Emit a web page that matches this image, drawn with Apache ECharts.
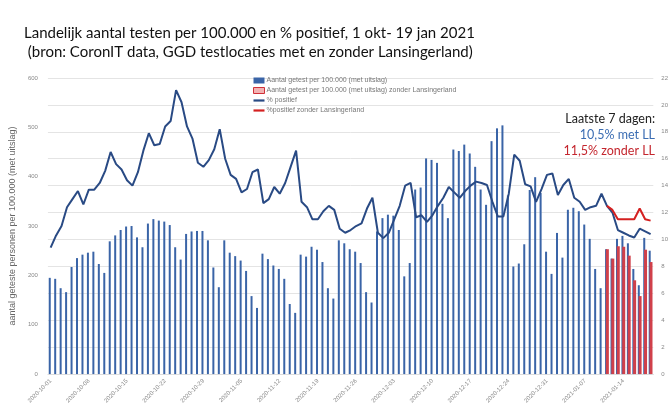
<!DOCTYPE html>
<html>
<head>
<meta charset="utf-8">
<script src="https://cdn.jsdelivr.net/npm/echarts@6/dist/echarts.min.js"></script>
<style>
  html, body { margin: 0; padding: 0; background: #fff; }
  #chart { width: 671px; height: 406px; }
</style>
</head>
<body>
<div id="chart"></div>
<script>
// daily categories 2020-10-01 .. 2021-01-19
var categories = [];
var d = new Date(Date.UTC(2020, 9, 1));
for (var i = 0; i < 111; i++) {
  categories.push(d.toISOString().slice(0, 10));
  d.setUTCDate(d.getUTCDate() + 1);
}

// aantal getest per 100.000 (met uitslag)
var testsAll = [
  195,193,174,166,217,235,242,246,248,223,205,269,281,292,299,300,277,257,305,314,311,309,302,257,232,284,289,290,
  290,271,216,176,271,246,239,230,209,158,134,244,233,220,213,193,142,124,242,238,258,252,227,174,153,271,265,253,248,
  225,166,145,289,316,323,321,292,198,225,374,378,437,434,428,345,316,455,452,465,447,420,374,343,472,498,504,362,
  218,224,263,373,399,367,248,203,286,236,333,337,330,303,274,213,174,253,234,274,280,265,213,180,276,250
];
// zonder Lansingerland, 2021-01-11 .. 2021-01-19
var testsNoLL = [253,234,259,258,240,190,158,252,227];

// % positief
var pctAll = [
  9.4,10.3,11.0,12.4,13.0,13.6,12.6,13.7,13.7,14.2,15.1,16.5,15.6,15.2,14.4,14.0,15.0,16.6,17.9,17.0,17.1,18.4,18.8,21.1,20.2,18.4,17.5,15.7,
  15.4,15.9,16.7,18.2,16.0,14.8,14.5,13.5,13.75,15.0,15.2,12.7,13.0,13.9,13.4,14.2,15.4,16.6,12.8,12.4,11.5,11.5,12.1,12.5,12.2,10.8,10.5,10.7,11.0,
  11.2,12.3,13.1,10.5,10.1,10.5,11.5,12.5,14.0,14.2,11.65,11.8,11.3,11.8,12.5,13.1,13.9,13.5,13.1,13.6,14.0,14.3,14.2,14.05,12.8,11.7,11.7,13.4,
  16.3,15.85,14.1,13.95,12.8,13.75,14.8,14.9,13.3,14.05,14.5,13.1,12.8,12.2,12.4,12.5,13.4,12.5,12.0,10.7,10.5,10.3,10.15,10.8,10.6,10.4
];
var pctNoLL = [12.5,12.2,11.5,11.5,11.5,11.5,12.3,11.5,11.4];

var legendNames = [
  'Aantal getest per 100.000 (met uitslag)',
  'Aantal getest per 100.000 (met uitslag) zonder Lansingerland',
  '% positief',
  '%positief zonder Lansingerland'
];

function padTail(arr) {
  var out = [];
  for (var i = 0; i < categories.length - arr.length; i++) out.push(null);
  return out.concat(arr);
}

var lineIcon = 'path://M0,0 L0,0 M0,3 L20,3 L20,7 L0,7 Z M0,10 L0,10';
var noteFont = 'Lato';

var myChart = echarts.init(document.getElementById('chart'));
myChart.setOption({
  animation: false,
  title: {
    text: 'Landelijk aantal testen per 100.000 en % positief, 1 okt- 19 jan 2021\n (bron: CoronIT data, GGD testlocaties met en zonder Lansingerland)',
    left: 19,
    top: 19,
    textStyle: {
      fontFamily: 'Lato',
      fontSize: 15,
      fontWeight: 'normal',
      color: '#111',
      lineHeight: 18.5
    }
  },
  legend: {
    orient: 'vertical',
    left: 248,
    top: 72,
    itemWidth: 11,
    itemHeight: 6,
    itemGap: 3,
    textStyle: { fontSize: 7, color: '#777', padding: [0, 0, 0, -3] },
    data: [
      { name: legendNames[0], icon: 'rect' },
      { name: legendNames[1], icon: 'rect', itemStyle: { color: '#f2b3b3', borderColor: '#d03038', borderWidth: 1 } },
      { name: legendNames[2], icon: lineIcon },
      { name: legendNames[3], icon: lineIcon }
    ]
  },
  graphic: [
    // white box behind the note, hides the gridlines there
    { type: 'rect', left: 560, top: 108, z: 1, shape: { width: 97, height: 50 }, style: { fill: '#fff' } },
    { type: 'text', right: 16, top: 112, z: 3, style: { text: 'Laatste 7 dagen:', fontSize: 12.5, fontFamily: noteFont, fill: '#222' } },
    { type: 'text', right: 16, top: 128, z: 3, style: { text: '10,5% met LL', fontSize: 12.5, fontFamily: noteFont, fill: '#3b6db3' } },
    { type: 'text', right: 16, top: 144, z: 3, style: { text: '11,5% zonder LL', fontSize: 12.5, fontFamily: noteFont, fill: '#c4262e' } }
  ],
  grid: { left: 46, right: 16, top: 78, bottom: 30 },
  xAxis: [{
    type: 'category',
    data: categories,
    axisLine: { lineStyle: { color: '#ddd' } },
    axisTick: { show: false },
    axisLabel: { interval: 6, rotate: 45, fontSize: 6, color: '#888', margin: 6 }
  }],
  yAxis: [
    {
      type: 'value',
      min: 0, max: 600, interval: 100,
      name: 'aantal geteste personen per 100.000 (met uitslag)',
      nameLocation: 'middle',
      nameGap: 21,
      nameTextStyle: { fontSize: 9, color: '#666' },
      axisLine: { show: false },
      axisTick: { show: false },
      splitLine: { show: false },
      axisLabel: { fontSize: 6, color: '#888', margin: 10 }
    },
    {
      type: 'value',
      min: 0, max: 22, interval: 2,
      axisLine: { show: false },
      axisTick: { show: false },
      splitLine: { lineStyle: { color: '#e4e4e4' } },
      axisLabel: { fontSize: 6, color: '#888', margin: 8 }
    }
  ],
  series: [
    {
      name: legendNames[0],
      type: 'bar',
      yAxisIndex: 0,
      barWidth: 2,
      barGap: '-60%',
      itemStyle: { color: '#3a64a7' },
      data: testsAll
    },
    {
      name: legendNames[1],
      type: 'bar',
      yAxisIndex: 0,
      barWidth: 3,
      itemStyle: { color: '#d0404a' },
      data: padTail(testsNoLL)
    },
    {
      name: legendNames[2],
      type: 'line',
      yAxisIndex: 1,
      symbol: 'none',
      lineStyle: { color: '#294a84', width: 2 },
      itemStyle: { color: '#294a84' },
      data: pctAll
    },
    {
      name: legendNames[3],
      type: 'line',
      yAxisIndex: 1,
      symbol: 'none',
      lineStyle: { color: '#d42020', width: 2 },
      itemStyle: { color: '#d42020' },
      data: padTail(pctNoLL)
    }
  ]
});
</script>
</body>
</html>
